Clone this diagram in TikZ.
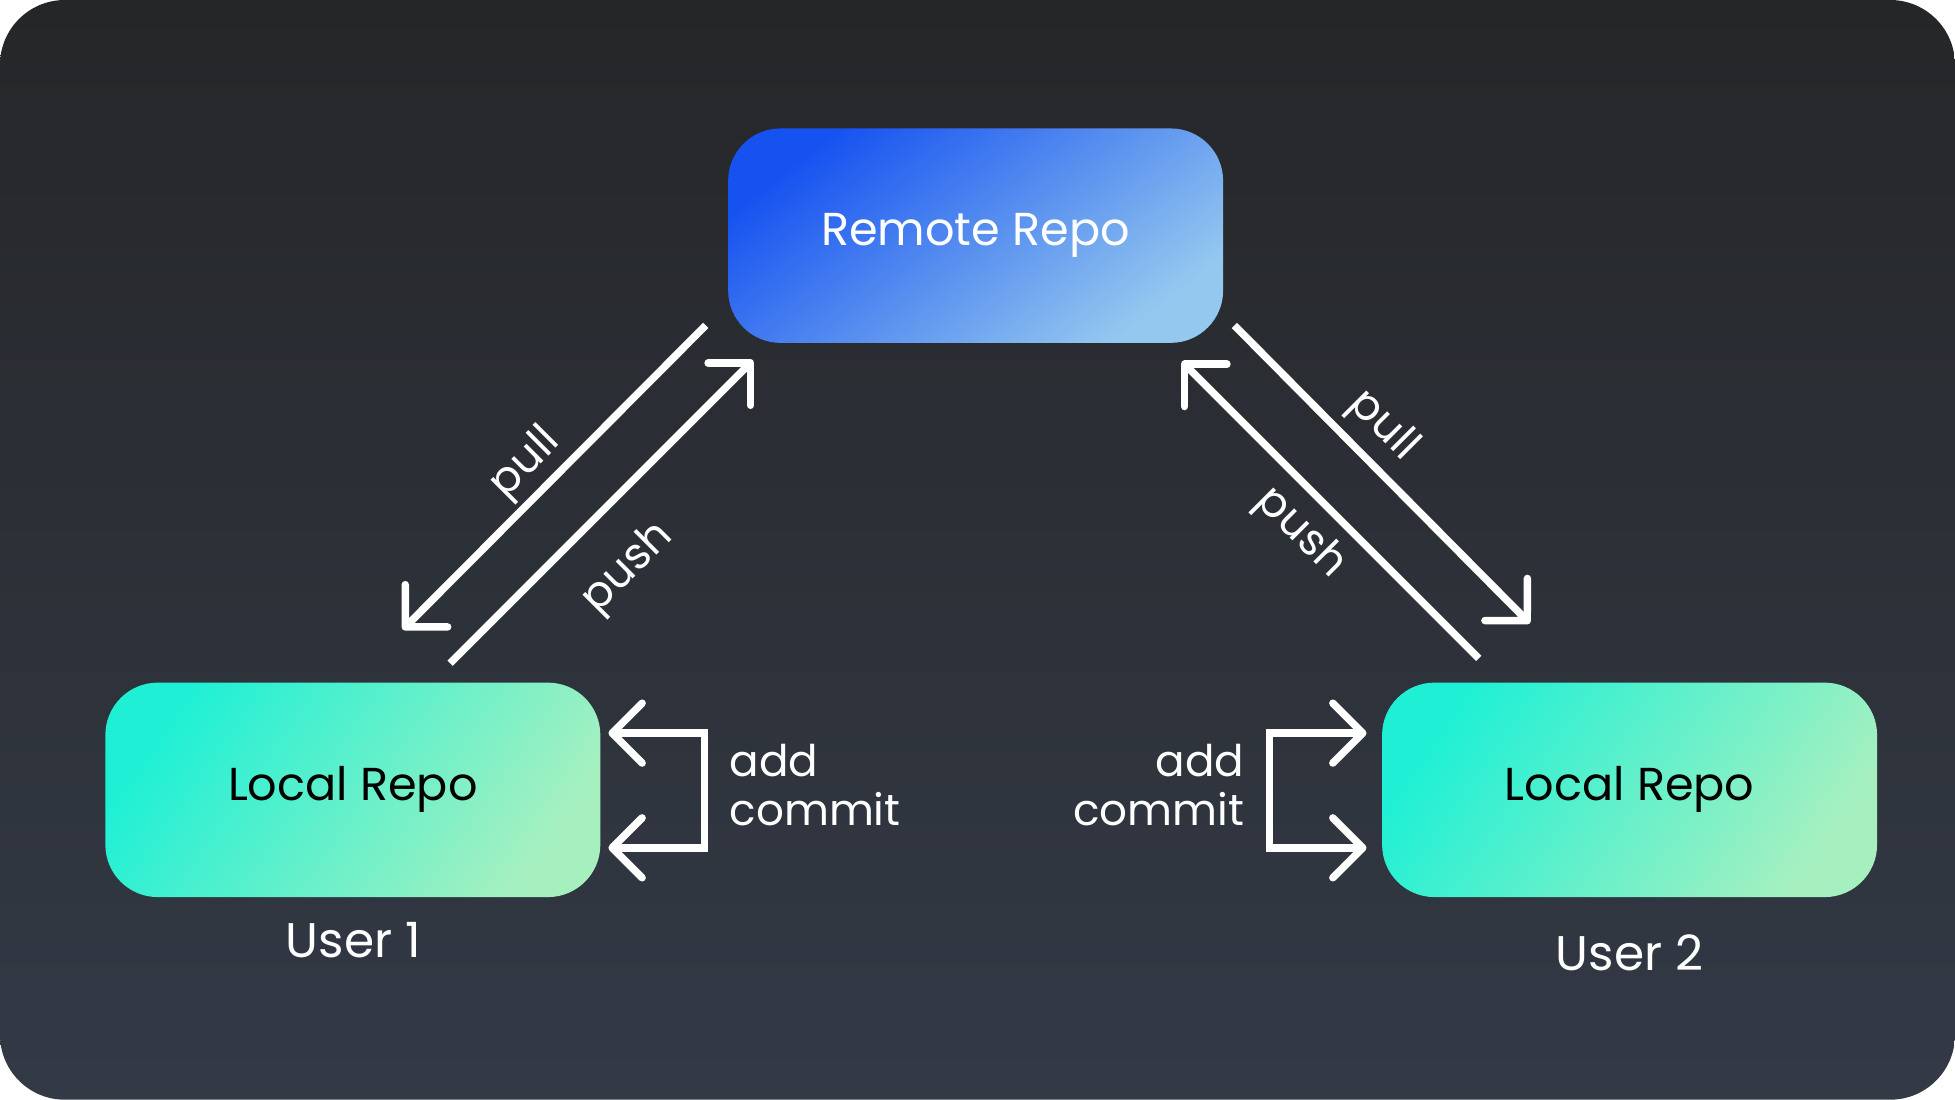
\documentclass[tikz,border=0pt]{standalone}
\usepackage{fontspec}
\setmainfont{Poppins}
\usetikzlibrary{arrows.meta}
\definecolor{bgtop}{HTML}{252628}
\definecolor{bgbot}{HTML}{333A46}
\definecolor{rtop}{HTML}{1652F0}
\definecolor{rbot}{HTML}{95C8EF}
\definecolor{ltop}{HTML}{1FF0D5}
\definecolor{lbot}{HTML}{A6F0C0}
\begin{document}
\begin{tikzpicture}[x=1pt,y=-1pt,
  repo/.style={rectangle, rounded corners=42pt, minimum width=397pt, minimum height=172pt, inner sep=0pt},
  remote/.style={repo, top color=rtop, bottom color=rbot, shading angle=38, text=white, font=\fontsize{37}{44}\selectfont},
  localrepo/.style={repo, top color=ltop, bottom color=lbot, shading angle=55, text=black, font=\fontsize{37}{44}\selectfont},
  lbl/.style={text=white, font=\fontsize{35}{42}\selectfont, inner sep=0pt},
  userlbl/.style={lbl, font=\fontsize{39}{46}\selectfont},
  tipx/.tip={Straight Barb[length=24pt,width=48pt,round]},
  flow/.style={draw=white, line width=6pt, line cap=butt, miter limit=10},
]
\useasboundingbox (0,0) rectangle (1568,882);
\shade[rounded corners=52pt, top color=bgtop, bottom color=bgbot] (0,0) rectangle (1568,882);

% nodes
\node[remote] (remote) at (782.5,189) {Remote Repo};
\node[localrepo] (local1) at (283,633.5) {Local Repo};
\node[localrepo] (local2) at (1307,633.5) {Local Repo};
\node[userlbl] (user1) at (283.5,754) {User 1};
\node[userlbl] (user2) at (1307,764) {User 2};

% left pull / push
\coordinate (pl1s) at (566,261);
\coordinate (pl1e) at (323,505);
\coordinate (ps1s) at (361,532);
\coordinate (ps1e) at (604,289);
\draw[flow, -tipx] (pl1s) -- (pl1e);
\draw[flow, -tipx] (ps1s) -- (ps1e);
\node[lbl, rotate=45] (pull1) at (422,372) {pull};
\node[lbl, rotate=45] (push1) at (504,456) {push};

% right pull / push
\coordinate (pl2s) at (990,261);
\coordinate (pl2e) at (1227,500);
\coordinate (ps2s) at (1186,528);
\coordinate (ps2e) at (948,290);
\draw[flow, -tipx] (pl2s) -- (pl2e);
\draw[flow, -tipx] (ps2s) -- (ps2e);
\node[lbl, rotate=-45] (pull2) at (1109,342) {pull};
\node[lbl, rotate=-45] (push2) at (1043,428) {push};

% add / commit left
\coordinate (a1) at (488,588);
\coordinate (b1) at (565,588);
\coordinate (c1) at (565,680);
\coordinate (d1) at (488,680);
\draw[flow, tipx-tipx] (a1) -- (b1) -- (c1) -- (d1);
\node[lbl, anchor=base west] (add1) at (585,623) {add};
\node[lbl, anchor=base west] (commit1) at (585,662) {commit};

% add / commit right
\coordinate (a2) at (1096,588);
\coordinate (b2) at (1018,588);
\coordinate (c2) at (1018,680);
\coordinate (d2) at (1096,680);
\draw[flow, tipx-tipx] (a2) -- (b2) -- (c2) -- (d2);
\node[lbl, anchor=base east] (add2) at (998,623) {add};
\node[lbl, anchor=base east] (commit2) at (998,662) {commit};
\end{tikzpicture}
\end{document}
